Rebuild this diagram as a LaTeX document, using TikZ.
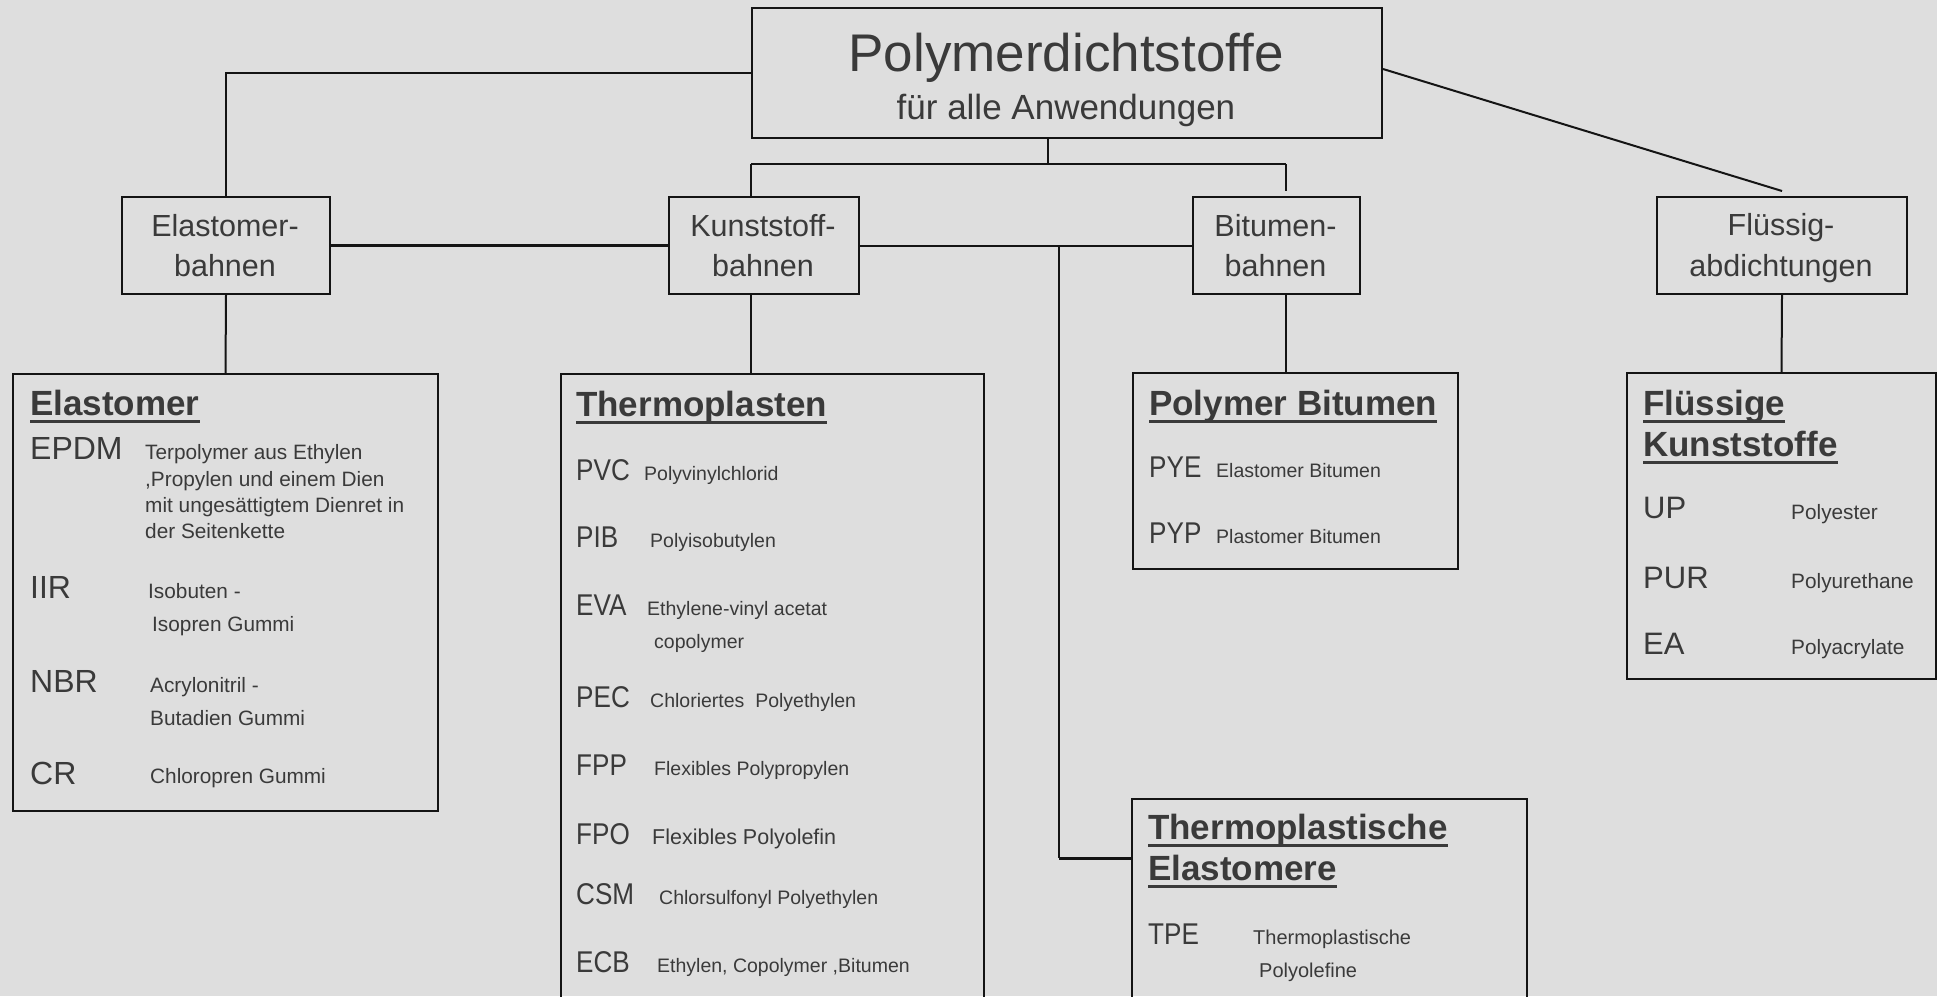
\documentclass[tikz,border=0pt]{standalone}
\usepackage{fontspec}
\setmainfont{Liberation Sans}
\newfontfamily\cond[FakeStretch=0.87]{Liberation Sans}
\definecolor{bg}{HTML}{DEDEDE}
\definecolor{tx}{HTML}{3A3A3A}
\definecolor{ln}{HTML}{141414}
\tikzset{
 box/.style={draw=ln, line width=2pt, inner sep=0pt, anchor=north west, rectangle},
 lbl/.style={text=tx, inner sep=0pt, anchor=base, font=\fontsize{30.5}{36}\selectfont},
 ttl/.style={text=tx, inner sep=0pt, anchor=base},
 head/.style={text=tx, inner sep=0pt, anchor=base west, font=\fontsize{35}{40}\selectfont\bfseries},
 abbr/.style={text=tx, inner sep=0pt, anchor=base west, font=\fontsize{32}{36}\selectfont},
 abbrf/.style={text=tx, inner sep=0pt, anchor=base west, font=\fontsize{31}{36}\selectfont},
 abbrc/.style={text=tx, inner sep=0pt, anchor=base west, font=\cond\fontsize{30}{34}\selectfont},
 desc/.style={text=tx, inner sep=0pt, anchor=base west, font=\fontsize{20.8}{24}\selectfont},
 descs/.style={text=tx, inner sep=0pt, anchor=base west, font=\fontsize{19.5}{24}\selectfont},
 conn/.style={draw=ln, line width=2pt},
 connb/.style={draw=ln, line width=3pt},
 ulin/.style={draw=tx, line width=3pt},
}
\newcommand\hul[1]{\draw[ulin] ([yshift=-6.5pt]#1.base west) -- ([yshift=-6.5pt]#1.base east);}
\begin{document}
\begin{tikzpicture}[x=1pt,y=-1pt]
\path[use as bounding box, fill=bg] (0,0) rectangle (1937,996);
\clip (0,0) rectangle (1937,996);

% ---------- title ----------
\node[box, minimum width=630pt, minimum height=130pt] (title) at (751,7) {};
\node[ttl, font=\fontsize{53}{60}\selectfont] (t1) at (1066,71) {Polymerdichtstoffe};
\node[ttl, font=\fontsize{35}{40}\selectfont] (t2) at (1066,119) {für alle Anwendungen};

% ---------- category boxes ----------
\node[box, minimum width=208pt, minimum height=97pt] (ebahn) at (121,196) {};
\node[lbl] (eb1) at (225,236) {Elastomer-};
\node[lbl] (eb2) at (225,276) {bahnen};

\node[box, minimum width=190pt, minimum height=97pt] (kbahn) at (668,196) {};
\node[lbl] (kb1) at (763,236) {Kunststoff-};
\node[lbl] (kb2) at (763,276) {bahnen};

\node[box, minimum width=167pt, minimum height=97pt] (bbahn) at (1192,196) {};
\node[lbl] (bb1) at (1275.5,236) {Bitumen-};
\node[lbl] (bb2) at (1275.5,276) {bahnen};

\node[box, minimum width=250pt, minimum height=97pt] (fbahn) at (1656,196) {};
\node[lbl] (fb1) at (1781,235) {Flüssig-};
\node[lbl] (fb2) at (1781,276) {abdichtungen};

% ---------- content boxes ----------
\node[box, minimum width=425pt, minimum height=437pt] (elast) at (12,373) {};
\node[box, minimum width=423pt, minimum height=640pt] (thermo) at (560,373) {};
\node[box, minimum width=325pt, minimum height=196pt] (polbit) at (1132,372) {};
\node[box, minimum width=309pt, minimum height=306pt] (fluess) at (1626,372) {};
\node[box, minimum width=395pt, minimum height=220pt] (tpe) at (1131,798) {};

% ---------- connectors ----------
\coordinate (jt) at (1048,164);
\coordinate (jk) at (751,164);
\coordinate (jb) at (1286,164);
\coordinate (jbe) at (1286,191);
\coordinate (v1) at (1059,245);
\coordinate (v2) at (1059,858);
\coordinate (kd) at (751,293);
\coordinate (bd) at (1286,293);

\draw[conn] (title.west) -| (ebahn.north);
\draw[connb] (ebahn.east) -- (kbahn.west);
\draw[conn] (jt |- title.south) -- (jt);
\draw[conn] (jk) -- (jb);
\draw[conn] (jk) -- (jk |- kbahn.north);
\draw[conn] (jb) -- (jbe);
\draw[conn] ([yshift=4pt]title.east) -- ([yshift=5pt]fbahn.north);
\draw[conn] (kbahn.east) -- (bbahn.west);
\draw[conn] (v1) -- (v2);
\draw[connb] (v2) -- (v2 -| tpe.west);
\draw[conn] (ebahn.south) -- (elast.north);
\draw[conn] (kd) -- (kd |- thermo.north);
\draw[conn] (bd) -- (bd |- polbit.north);
\draw[conn] (fbahn.south) -- (fluess.north);

% ---------- Elastomer ----------
\node[head] (eh) at (30,415) {Elastomer};
\hul{eh}
\node[abbr] (epdm) at (30,459) {EPDM};
\node[desc] (epdm1) at (145,459) {Terpolymer aus Ethylen};
\node[desc] (epdm2) at (145,486) {,Propylen und einem Dien};
\node[desc] (epdm3) at (145,512) {mit ungesättigtem Dienret in};
\node[desc] (epdm4) at (145,538) {der Seitenkette};
\node[abbr] (iir) at (30,598) {IIR};
\node[desc] (iir1) at (148,598) {Isobuten -};
\node[desc] (iir2) at (152,631) {Isopren Gummi};
\node[abbr] (nbr) at (30,692) {NBR};
\node[desc] (nbr1) at (150,692) {Acrylonitril -};
\node[desc] (nbr2) at (150,725) {Butadien Gummi};
\node[abbr] (cr) at (30,784) {CR};
\node[desc] (cr1) at (150,783) {Chloropren Gummi};

% ---------- Thermoplasten ----------
\node[head] (th) at (576,416) {Thermoplasten};
\hul{th}
\node[abbrc] (pvc) at (576,480) {PVC};
\node[descs] (pvc1) at (644,480) {Polyvinylchlorid};
\node[abbrc] (pib) at (576,547) {PIB};
\node[descs] (pib1) at (650,547) {Polyisobutylen};
\node[abbrc] (eva) at (576,615) {EVA};
\node[descs] (eva1) at (647,615) {Ethylene-vinyl acetat};
\node[descs] (eva2) at (654,648) {copolymer};
\node[abbrc] (pec) at (576,707) {PEC};
\node[descs] (pec1) at (650,707) {Chloriertes\ \ Polyethylen};
\node[abbrc] (fpp) at (576,775) {FPP};
\node[descs] (fpp1) at (654,775) {Flexibles Polypropylen};
\node[abbrc] (fpo) at (576,844) {FPO};
\node[desc, font=\fontsize{21.5}{24}\selectfont] (fpo1) at (652,844) {Flexibles Polyolefin};
\node[abbrc] (csm) at (576,904) {CSM};
\node[descs] (csm1) at (659,904) {Chlorsulfonyl Polyethylen};
\node[abbrc] (ecb) at (576,972) {ECB};
\node[descs] (ecb1) at (657,972) {Ethylen, Copolymer ,Bitumen};

% ---------- Polymer Bitumen ----------
\node[head] (pbh) at (1149,415) {Polymer Bitumen};
\hul{pbh}
\node[abbrc] (pye) at (1149,477) {PYE};
\node[descs] (pye1) at (1216,477) {Elastomer Bitumen};
\node[abbrc] (pyp) at (1149,543) {PYP};
\node[descs] (pyp1) at (1216,543) {Plastomer Bitumen};

% ---------- Fluessige Kunststoffe ----------
\node[head] (fh1) at (1643,415) {Flüssige};
\hul{fh1}
\node[head] (fh2) at (1643,456) {Kunststoffe};
\hul{fh2}
\node[abbrf] (up) at (1643,518) {UP};
\node[desc] (up1) at (1791,519) {Polyester};
\node[abbrf] (pur) at (1643,588) {PUR};
\node[desc] (pur1) at (1791,588) {Polyurethane};
\node[abbrf] (ea) at (1643,654) {EA};
\node[desc] (ea1) at (1791,654) {Polyacrylate};

% ---------- Thermoplastische Elastomere ----------
\node[head] (tph1) at (1148,839) {Thermoplastische};
\hul{tph1}
\node[head] (tph2) at (1148,880) {Elastomere};
\hul{tph2}
\node[abbrc] (tpea) at (1148,944) {TPE};
\node[descs, font=\fontsize{20}{24}\selectfont] (tpe1) at (1253,944) {Thermoplastische};
\node[descs, font=\fontsize{20}{24}\selectfont] (tpe2) at (1259,977) {Polyolefine};
\end{tikzpicture}
\end{document}
